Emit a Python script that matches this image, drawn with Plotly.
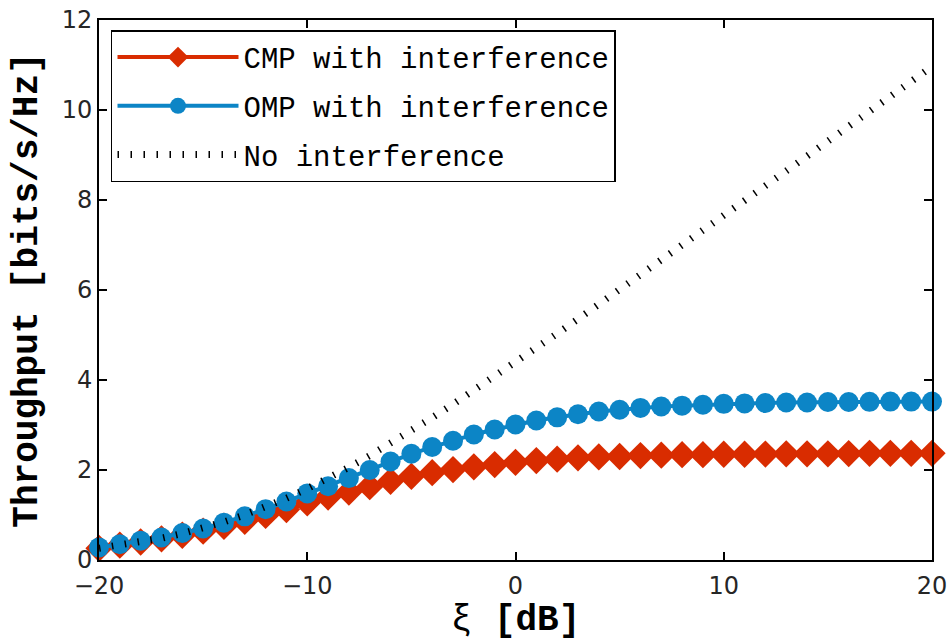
import plotly.graph_objects as go

xi_db = list(range(-20, 21))

cmp_tp = [0.26, 0.33, 0.40, 0.47, 0.55, 0.64, 0.75, 0.86, 0.99, 1.12,
          1.27, 1.40, 1.51, 1.63, 1.75, 1.86, 1.94, 2.01, 2.07, 2.12,
          2.17, 2.21, 2.24, 2.27, 2.29, 2.30, 2.32, 2.33, 2.34, 2.34,
          2.35, 2.35, 2.355, 2.36, 2.36, 2.36, 2.365, 2.37, 2.37, 2.37, 2.37]

omp_tp = [0.28, 0.35, 0.43, 0.50, 0.60, 0.70, 0.83, 0.97, 1.13, 1.30,
          1.48, 1.64, 1.82, 2.00, 2.19, 2.36, 2.51, 2.65, 2.79, 2.90,
          3.01, 3.10, 3.17, 3.24, 3.30, 3.34, 3.38, 3.41, 3.43, 3.45,
          3.47, 3.48, 3.49, 3.50, 3.50, 3.51, 3.51, 3.515, 3.52, 3.52, 3.52]

noint_tp = [0.263, 0.324, 0.397, 0.484, 0.587, 0.707, 0.845, 1.002, 1.178, 1.372,
            1.585, 1.815, 2.060, 2.319, 2.591, 2.873, 3.164, 3.462, 3.768, 4.078,
            4.392, 4.710, 5.031, 5.354, 5.679, 6.006, 6.333, 6.661, 6.991, 7.321,
            7.651, 7.982, 8.313, 8.644, 8.975, 9.307, 9.639, 9.971, 10.303, 10.635, 10.966]

names = ["CMP with interference", "OMP with interference", "No interference"]
red = "rgb(217,44,0)"
blue = "rgb(12,133,198)"

fig = go.Figure()
fig.add_trace(go.Scatter(x=xi_db, y=cmp_tp, name=names[0], mode="lines+markers",
                         line=dict(color=red, width=4),
                         marker=dict(symbol="diamond", size=21, color=red),
                         cliponaxis=False, legendgroup="a"))
fig.add_trace(go.Scatter(x=xi_db, y=omp_tp, name=names[1], mode="lines+markers",
                         line=dict(color=blue, width=4),
                         marker=dict(symbol="circle", size=20, color=blue),
                         cliponaxis=False, legendgroup="b"))
fig.add_trace(go.Scatter(x=xi_db, y=noint_tp, name=names[2], mode="lines",
                         line=dict(color="black", width=7, dash="1.5px,11.5px"),
                         legendgroup="c"))

axis_common = dict(showline=True, linecolor="black", linewidth=2, mirror="ticks",
                   ticks="inside", ticklen=8, tickwidth=1.5, tickcolor="black",
                   showgrid=False, zeroline=False, automargin=False,
                   tickfont=dict(family="DejaVu Sans", size=24, color="#262626"))

fig.update_xaxes(range=[-20, 20], dtick=10, tick0=0, ticklabelstandoff=3,
                 title=dict(text="ξ <b>[dB]</b>", standoff=4,
                            font=dict(family="Liberation Mono", size=36, color="black")),
                 **axis_common)
fig.update_yaxes(range=[0, 12], dtick=2, tick0=0,
                 title=dict(text="<b>Throughput [bits/s/Hz]</b>", standoff=13,
                            font=dict(family="Liberation Mono", size=36, color="black")),
                 **axis_common)

fig.update_layout(
    width=952, height=641,
    margin=dict(l=99, r=20, t=20, b=81),
    plot_bgcolor="white", paper_bgcolor="white",
    showlegend=True,
    legend=dict(x=0.0144, y=0.981, xanchor="left", yanchor="top",
                bgcolor="white", bordercolor="black", borderwidth=1.5,
                font=dict(family="Liberation Mono", size=29, color="black"),
                itemwidth=121, tracegroupgap=8, itemsizing="trace",
                entrywidth=390, entrywidthmode="pixels"),
)

fig.write_html("out.html")
